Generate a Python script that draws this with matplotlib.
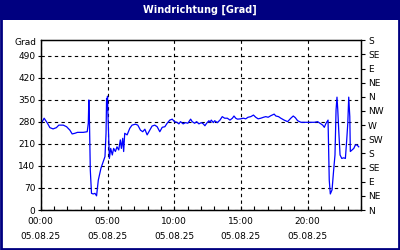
import matplotlib
matplotlib.use("Agg")
import matplotlib.pyplot as plt
from matplotlib.patches import Rectangle
from matplotlib.ticker import MultipleLocator

# Windrichtung über den Tag (Stunden seit 00:00, Grad)
hours = [0.05, 0.25, 0.5, 0.68, 0.92, 1.17, 1.35, 1.68, 1.93, 2.18,
         2.35, 2.55, 2.75, 3.18, 3.48, 3.56, 3.6, 3.65, 3.71, 3.8,
         3.93, 4.06, 4.18, 4.31, 4.51, 4.68, 4.81, 4.89, 4.93, 4.96,
         5.0, 5.03, 5.08, 5.14, 5.24, 5.36, 5.46, 5.59, 5.71, 5.84,
         5.96, 6.04, 6.14, 6.21, 6.29, 6.47, 6.67, 6.84, 7.09, 7.27,
         7.47, 7.64, 7.8, 7.97, 8.17, 8.34, 8.54, 8.72, 8.92, 9.1,
         9.3, 9.47, 9.67, 9.85, 10.02, 10.2, 10.35, 10.47, 10.67, 10.85,
         11.02, 11.23, 11.35, 11.53, 11.68, 11.85, 12.03, 12.18, 12.3, 12.43,
         12.6, 12.68, 12.78, 12.93, 13.03, 13.23, 13.43, 13.6, 13.78, 13.98,
         14.18, 14.36, 14.48, 14.61, 14.74, 14.98, 15.19, 15.36, 15.53, 15.74,
         15.94, 16.11, 16.29, 16.49, 16.69, 16.86, 17.04, 17.24, 17.49, 17.62,
         17.82, 17.99, 18.24, 18.5, 18.74, 18.92, 19.07, 19.25, 19.5, 19.74,
         20.0, 20.25, 20.5, 20.75, 20.92, 21.13, 21.25, 21.38, 21.53, 21.58,
         21.62, 21.7, 21.83, 21.95, 22.05, 22.13, 22.2, 22.26, 22.33, 22.43,
         22.56, 22.7, 22.83, 22.93, 23.01, 23.08, 23.16, 23.2, 23.33, 23.46,
         23.58, 23.7, 23.83]
degrees = [276, 292, 276, 262, 258, 262, 270, 270, 265, 254,
           242, 244, 247, 247, 249, 276, 350, 276, 127, 53,
           51, 53, 45, 95, 133, 154, 170, 244, 355, 318,
           362, 308, 244, 164, 196, 175, 196, 186, 201, 191,
           223, 196, 228, 186, 244, 239, 260, 270, 273, 270,
           254, 249, 257, 239, 254, 267, 270, 265, 249, 263,
           265, 276, 286, 289, 281, 279, 274, 281, 274, 278,
           276, 289, 281, 276, 281, 274, 278, 274, 268, 276,
           284, 279, 286, 278, 284, 278, 286, 297, 292, 292,
           286, 292, 299, 292, 289, 290, 292, 290, 295, 297,
           302, 295, 290, 292, 295, 297, 295, 300, 305, 299,
           297, 292, 286, 281, 292, 299, 294, 284, 279, 279,
           279, 279, 279, 281, 276, 270, 263, 276, 286, 170,
           95, 51, 64, 127, 175, 318, 359, 318, 254, 175,
           164, 166, 164, 223, 276, 359, 297, 186, 191, 196,
           207, 207, 201]

left_ticks = [0, 70, 140, 210, 280, 350, 420, 490]
right_ticks = [0, 45, 90, 135, 180, 225, 270, 315, 360, 405, 450, 495, 540]
right_labels = ["N", "NE", "E", "SE", "S", "SW", "W", "NW", "N", "NE", "E", "SE", "S"]
time_ticks = [0, 5, 10, 15, 20]
time_labels = ["00:00\n05.08.25", "05:00\n05.08.25", "10:00\n05.08.25",
               "15:00\n05.08.25", "20:00\n05.08.25"]

navy = "#000080"
fs = 6.5

fig = plt.figure(figsize=(4, 2.5), dpi=100)
fig.patch.set_facecolor("white")

# title bar + frame
fig.patches.append(Rectangle((0, 0.92), 1, 0.08, transform=fig.transFigure,
                             facecolor=navy, edgecolor="none", zorder=0))
fig.patches.append(Rectangle((0.0025, 0.004), 0.995, 0.992, transform=fig.transFigure,
                             facecolor="none", edgecolor=navy, linewidth=2, zorder=1))
fig.text(0.5, 0.96, "Windrichtung [Grad]", color="white", fontsize=7,
         fontweight="bold", ha="center", va="center")

ax = fig.add_axes([0.102, 0.16, 0.8005, 0.679])
ax.plot(hours, degrees, color="#0000ff", linewidth=0.9)
ax.set_xlim(0, 24)
ax.set_ylim(0, 540)

ax.set_xticks(time_ticks)
ax.set_xticklabels(time_labels, fontsize=fs, linespacing=1.9)
ax.xaxis.set_minor_locator(MultipleLocator(1))
ax.tick_params(axis="x", which="both", direction="in", length=3, width=0.8, pad=5)

ax.set_yticks(left_ticks)
ax.set_yticklabels([str(v) for v in left_ticks], fontsize=fs)
ax.tick_params(axis="y", which="both", direction="out", length=2, width=0.8, pad=2)
ax.text(-0.012, 0.985, "Grad", transform=ax.transAxes, fontsize=fs, ha="right", va="center")

ax.grid(True, which="major", color="black", linestyle=(0, (3, 3)), linewidth=0.8)

ax2 = ax.twinx()
ax2.set_ylim(0, 540)
ax2.set_yticks(right_ticks)
ax2.set_yticklabels(right_labels, fontsize=fs)
ax2.tick_params(axis="y", direction="out", length=3, width=0.8, pad=2)

for a in (ax, ax2):
    for sp in a.spines.values():
        sp.set_linewidth(0.9)
        sp.set_color("black")

fig.savefig("out.png", dpi=100)
